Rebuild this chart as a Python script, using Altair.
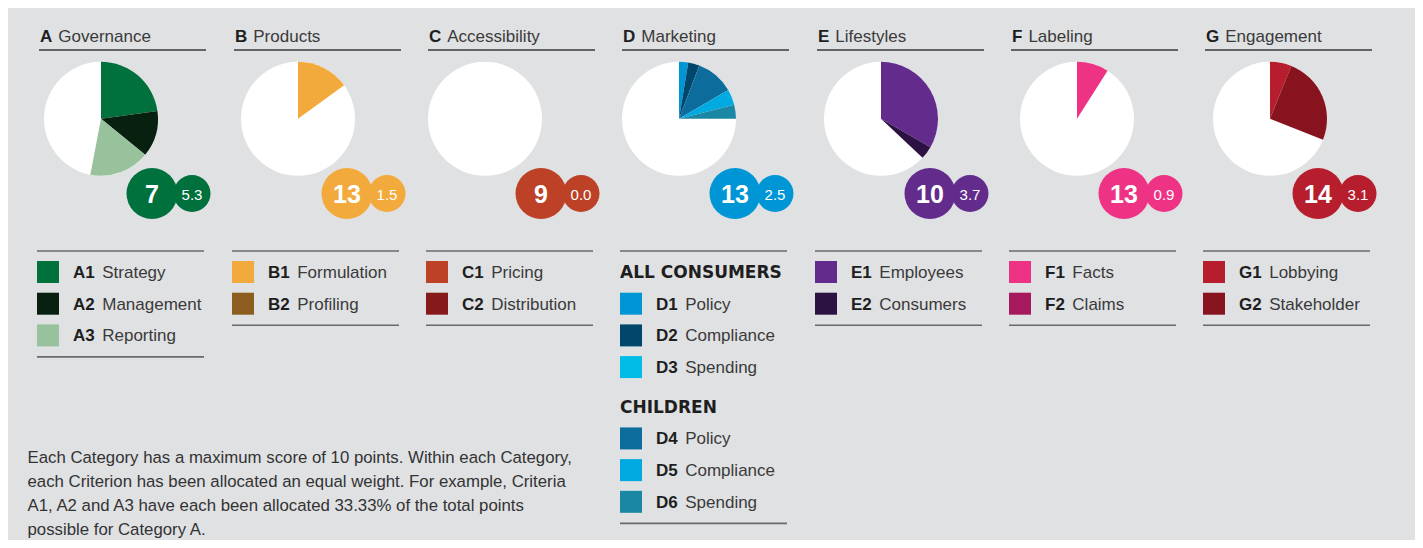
import math
import altair as alt
import pandas as pd

# ---------------- data ----------------
cat_letters = ["A", "B", "C", "D", "E", "F", "G"]
cat_names = ["Governance", "Products", "Accessibility", "Marketing", "Lifestyles", "Labeling", "Engagement"]
cat_ranks = [7, 13, 9, 13, 10, 13, 14]
cat_scores = [5.3, 1.5, 0.0, 2.5, 3.7, 0.9, 3.1]

crit_A_codes = ["A1", "A2", "A3"]
crit_A_names = ["Strategy", "Management", "Reporting"]
crit_A_values = [2.28, 1.31, 1.71]
crit_A_colors = ["#00703c", "#08200f", "#98c29b"]

crit_B_codes = ["B1", "B2"]
crit_B_names = ["Formulation", "Profiling"]
crit_B_values = [1.5, 0.0]
crit_B_colors = ["#f3aa3c", "#8b5e1f"]

crit_C_codes = ["C1", "C2"]
crit_C_names = ["Pricing", "Distribution"]
crit_C_values = [0.0, 0.0]
crit_C_colors = ["#bd4127", "#861a1a"]

crit_D_codes = ["D1", "D2", "D3", "D4", "D5", "D6"]
crit_D_names = ["Policy", "Compliance", "Spending", "Policy", "Compliance", "Spending"]
crit_D_groups = ["ALL CONSUMERS", "ALL CONSUMERS", "ALL CONSUMERS", "CHILDREN", "CHILDREN", "CHILDREN"]
crit_D_values = [0.26, 0.32, 0.0, 1.08, 0.44, 0.40]
crit_D_colors = ["#0095d5", "#00476b", "#00bde8", "#0c6c9c", "#00a9df", "#1a87a5"]

crit_E_codes = ["E1", "E2"]
crit_E_names = ["Employees", "Consumers"]
crit_E_values = [3.33, 0.37]
crit_E_colors = ["#622b8c", "#2b1242"]

crit_F_codes = ["F1", "F2"]
crit_F_names = ["Facts", "Claims"]
crit_F_values = [0.9, 0.0]
crit_F_colors = ["#ee3384", "#a6195d"]

crit_G_codes = ["G1", "G2"]
crit_G_names = ["Lobbying", "Stakeholder"]
crit_G_values = [0.61, 2.49]
crit_G_colors = ["#b71e2d", "#87131f"]

max_score = 10

footnote_lines = [
    "Each Category has a maximum score of 10 points. Within each Category,",
    "each Criterion has been allocated an equal weight. For example, Criteria",
    "A1, A2 and A3 have each been allocated 33.33% of the total points",
    "possible for Category A.",
]

criteria = {
    "A": (crit_A_codes, crit_A_names, crit_A_values, crit_A_colors, None),
    "B": (crit_B_codes, crit_B_names, crit_B_values, crit_B_colors, None),
    "C": (crit_C_codes, crit_C_names, crit_C_values, crit_C_colors, None),
    "D": (crit_D_codes, crit_D_names, crit_D_values, crit_D_colors, crit_D_groups),
    "E": (crit_E_codes, crit_E_names, crit_E_values, crit_E_colors, None),
    "F": (crit_F_codes, crit_F_names, crit_F_values, crit_F_colors, None),
    "G": (crit_G_codes, crit_G_names, crit_G_values, crit_G_colors, None),
}

# ---------------- layout ----------------
W, H = 1407, 532
BG = "#e0e1e3"
FONT = "Liberation Sans"
col_left = [31, 226, 420, 614, 809, 1003, 1197]
pie_dx = [62, 64, 57, 57, 64, 66, 65]
pie_cy = 110.8
R = 57
rank_dx, score_dx, circ_y = 113, 153, 185.5
title_y, underline_y = 34, 42
legend_top = 243
row0, row_step = 264, 31.7
FS = 17
bold_w = {"A": .722, "B": .722, "C": .722, "D": .722, "E": .667, "F": .611, "G": .778}
digit_w = .556

bg_rows, slice_rows, circ_rows, title_rows, rule_rows = [], [], [], [], []
sq_rows, code_rows, name_rows, head_rows = [], [], [], []

for i, L in enumerate(cat_letters):
    x0 = col_left[i]
    cx = x0 + pie_dx[i]
    codes, names, vals, cols, groups = criteria[L]
    bg_rows.append({"x": cx, "y": pie_cy})
    acc = 0.0
    for c, v, col in zip(codes, vals, cols):
        if v > 0:
            slice_rows.append({"x": cx, "y": pie_cy, "t0": acc, "t1": acc + v, "color": col, "code": c})
        acc += v
    circ_rows.append({"x": x0 + rank_dx, "y": circ_y, "color": cols[0], "kind": "rank",
                      "label": str(cat_ranks[i])})
    circ_rows.append({"x": x0 + score_dx, "y": circ_y, "color": cols[0], "kind": "score",
                      "label": f"{cat_scores[i]:.1f}"})
    title_rows.append({"x": x0 + 1, "y": title_y, "letter": L, "name": cat_names[i],
                       "nx": x0 + 1 + bold_w[L] * FS + 6})
    rule_rows.append({"x": x0, "x2": x0 + 167, "y": underline_y, "kind": "title"})
    # legend
    rule_rows.append({"x": x0 - 2, "x2": x0 + 165, "y": legend_top, "kind": "legend"})
    slot = 0.0
    last_group = None
    for j, (c, n, col) in enumerate(zip(codes, names, cols)):
        if groups is not None and groups[j] != last_group:
            if last_group is not None:
                slot += 0.25
            head_rows.append({"x": x0 - 2, "y": row0 + row_step * slot + 6, "text": groups[j]})
            slot += 1
            last_group = groups[j]
        yc = row0 + row_step * slot
        sq_rows.append({"x": x0 - 2, "x2": x0 + 20, "y": yc - 11, "y2": yc + 11, "color": col})
        cx_code = x0 + 34
        code_rows.append({"x": cx_code, "y": yc + 6, "text": c})
        name_rows.append({"x": cx_code + (bold_w[c[0]] + digit_w) * FS + 7.5, "y": yc + 6, "text": n})
        slot += 1
    last_y = row0 + row_step * (slot - 1)
    rule_rows.append({"x": x0 - 2, "x2": x0 + 165, "y": last_y + 21.5, "kind": "legend"})

foot_rows = [{"x": 19.5, "y": 455 + 24 * k, "text": t} for k, t in enumerate(footnote_lines)]


def P(xf="x", yf="y"):
    return dict(x=alt.X(f"{xf}:Q", scale=None, axis=None),
                y=alt.Y(f"{yf}:Q", scale=None, axis=None))


df = lambda rows: alt.Data(values=rows)

pie_bg = alt.Chart(df(bg_rows)).mark_circle(size=(2 * R) ** 2, color="white", opacity=1).encode(**P())

slices = alt.Chart(df(slice_rows)).mark_arc(radius=R).encode(
    **P(),
    theta=alt.Theta("t0:Q", stack=None,
                    scale=alt.Scale(domain=[0, max_score], range=[0, 2 * math.pi])),
    theta2=alt.Theta2("t1:Q"),
    color=alt.Color("color:N", scale=None),
)

score_c = alt.Chart(df(circ_rows)).transform_filter("datum.kind == 'score'").mark_circle(
    size=37 ** 2, opacity=1).encode(**P(), color=alt.Color("color:N", scale=None))
rank_c = alt.Chart(df(circ_rows)).transform_filter("datum.kind == 'rank'").mark_circle(
    size=51 ** 2, opacity=1).encode(**P(), color=alt.Color("color:N", scale=None))
rank_t = alt.Chart(df(circ_rows)).transform_filter("datum.kind == 'rank'").mark_text(
    font=FONT, fontSize=25, fontWeight="bold", color="white", baseline="middle", align="center", dy=1
).encode(**P(), text="label:N")
score_t = alt.Chart(df(circ_rows)).transform_filter("datum.kind == 'score'").mark_text(
    font=FONT, fontSize=15, color="white", baseline="middle", align="center", dy=1
).encode(**P(), text="label:N")

title_l = alt.Chart(df(title_rows)).mark_text(
    font=FONT, fontSize=FS, fontWeight="bold", color="#1e1e1e", align="left", baseline="alphabetic"
).encode(**P(), text="letter:N")
title_n = alt.Chart(df(title_rows)).mark_text(
    font=FONT, fontSize=FS, color="#3a3a3a", align="left", baseline="alphabetic"
).encode(**P("nx", "y"), text="name:N")

rules_t = alt.Chart(df(rule_rows)).transform_filter("datum.kind == 'title'").mark_rule(
    color="#3a3a3a", strokeWidth=1.3).encode(**P(), x2="x2:Q")
rules_l = alt.Chart(df(rule_rows)).transform_filter("datum.kind == 'legend'").mark_rule(
    color="#6a6a6a", strokeWidth=1.6).encode(**P(), x2="x2:Q")

squares = alt.Chart(df(sq_rows)).mark_rect().encode(
    **P(), x2="x2:Q", y2="y2:Q", color=alt.Color("color:N", scale=None))
codes_t = alt.Chart(df(code_rows)).mark_text(
    font=FONT, fontSize=FS, fontWeight="bold", color="#1e1e1e", align="left", baseline="alphabetic"
).encode(**P(), text="text:N")
names_t = alt.Chart(df(name_rows)).mark_text(
    font=FONT, fontSize=FS, color="#3a3a3a", align="left", baseline="alphabetic"
).encode(**P(), text="text:N")
heads_t = alt.Chart(df(head_rows)).mark_text(
    font="DejaVu Sans", fontSize=17, fontWeight="bold", color="#1e1e1e", align="left", baseline="alphabetic"
).encode(**P(), text="text:N")
foot_t = alt.Chart(df(foot_rows)).mark_text(
    font=FONT, fontSize=16.8, color="#333333", align="left",
    baseline="alphabetic"
).encode(**P(), text="text:N")

chart = alt.layer(
    pie_bg, slices, score_c, rank_c, rank_t, score_t, title_l, title_n, rules_t, rules_l,
    squares, codes_t, names_t, heads_t, foot_t
).properties(
    width=W, height=H, background=BG, padding=0, autosize="none"
).configure_view(stroke=None)

chart.save("out.html", embed_options={"renderer": "svg", "actions": False})
